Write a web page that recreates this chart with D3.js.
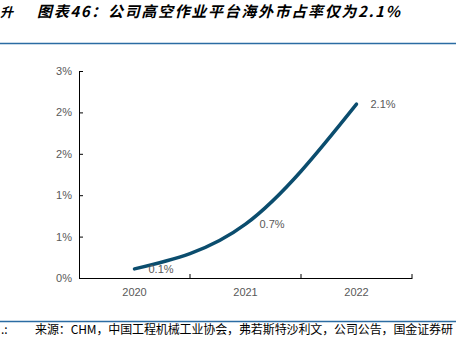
<!DOCTYPE html>
<html>
<head>
<meta charset="utf-8">
<script src="https://cdn.jsdelivr.net/npm/d3@7"></script>
<style>
  body { margin: 0; background: #fff; }
  svg { display: block; font-family: "Liberation Sans", Arial, sans-serif; }
  .axis path, .axis line { stroke: #000; }
  .axis text { fill: #595959; font-size: 11px; }
</style>
</head>
<body>
<div class="chart"></div>
<script>
const width = 459;
const height = 353;

// data
const years = ['2020', '2021', '2022'];
const share = [0.0011, 0.0065, 0.021];
const shareLabels = ['0.1%', '0.7%', '2.1%'];
const yTicks = [0, 0.005, 0.01, 0.015, 0.02, 0.025];
const yTickLabels = ['0%', '1%', '1%', '2%', '2%', '3%'];

const svg = d3.select('.chart').append('svg')
    .attr('width', width)
    .attr('height', height);

// header / footer
svg.append('text')
    .attr('x', 0).attr('y', 17)
    .attr('font-family', '"Noto Sans CJK SC"')
    .attr('font-size', 13).attr('font-style', 'italic').attr('font-weight', 'bold')
    .text('升');
svg.append('text')
    .attr('x', 37).attr('y', 17)
    .attr('font-family', '"Noto Sans CJK SC"')
    .attr('font-size', 15).attr('font-style', 'italic').attr('font-weight', 'bold')
    .attr('textLength', 363).attr('lengthAdjust', 'spacing')
    .text('图表46：公司高空作业平台海外市占率仅为2.1%');
svg.append('line')
    .attr('x1', 0).attr('x2', 456).attr('y1', 43.5).attr('y2', 43.5)
    .attr('stroke', '#2b6ca3').attr('stroke-width', 1.5);
svg.append('line')
    .attr('x1', 0).attr('x2', 456).attr('y1', 321.5).attr('y2', 321.5)
    .attr('stroke', '#2b6ca3').attr('stroke-width', 1.5);
svg.append('text')
    .attr('x', 1).attr('y', 334)
    .attr('font-family', '"Noto Sans CJK SC"').attr('font-size', 12)
    .text('.:');
svg.append('text')
    .attr('x', 35).attr('y', 334)
    .attr('font-family', '"Noto Sans CJK SC"').attr('font-size', 12)
    .attr('textLength', 418).attr('lengthAdjust', 'spacing')
    .text('来源：CHM，中国工程机械工业协会，弗若斯特沙利文，公司公告，国金证券研');

/*      scales       */
const xScale = d3.scaleBand()
    .domain(years)
    .range([79, 412])
    .padding(0);
const yScale = d3.scaleLinear()
    .domain([0, 0.025])
    .range([278, 71]);

/*      y-axis       */
svg.append('g')
    .attr('class', 'axis')
    .attr('transform', 'translate(79,0)')
    .call(d3.axisLeft(yScale)
        .tickValues(yTicks)
        .tickFormat((d, i) => yTickLabels[i])
        .tickSizeInner(-4)
        .tickSizeOuter(0)
        .tickPadding(7));

/*      x-axis       */
const xAxis = svg.append('g')
    .attr('class', 'axis')
    .attr('transform', 'translate(0,278)')
    .call(d3.axisBottom(xScale).tickSize(0).tickPadding(10));
xAxis.selectAll('.boundary')
    .data(years)
    .enter()
    .append('line')
    .attr('class', 'boundary')
    .attr('x1', d => xScale(d) + xScale.bandwidth())
    .attr('x2', d => xScale(d) + xScale.bandwidth())
    .attr('y1', 0).attr('y2', -4);

/*      line       */
const pts = years.map((d, i) => [xScale(d) + xScale.bandwidth() / 2, yScale(share[i])]);
const line = d3.line().curve(d3.curveNatural);
svg.append('path')
    .attr('d', line(pts))
    .attr('fill', 'none')
    .attr('stroke', '#0b4d6e')
    .attr('stroke-width', 3.5)
    .attr('stroke-linecap', 'round');

svg.selectAll('.valueLabel')
    .data(pts)
    .enter()
    .append('text')
    .attr('class', 'valueLabel')
    .attr('x', d => d[0] + 14)
    .attr('y', d => d[1])
    .attr('dy', '0.35em')
    .attr('fill', '#595959')
    .attr('font-size', 11)
    .text((d, i) => shareLabels[i]);
</script>
</body>
</html>
